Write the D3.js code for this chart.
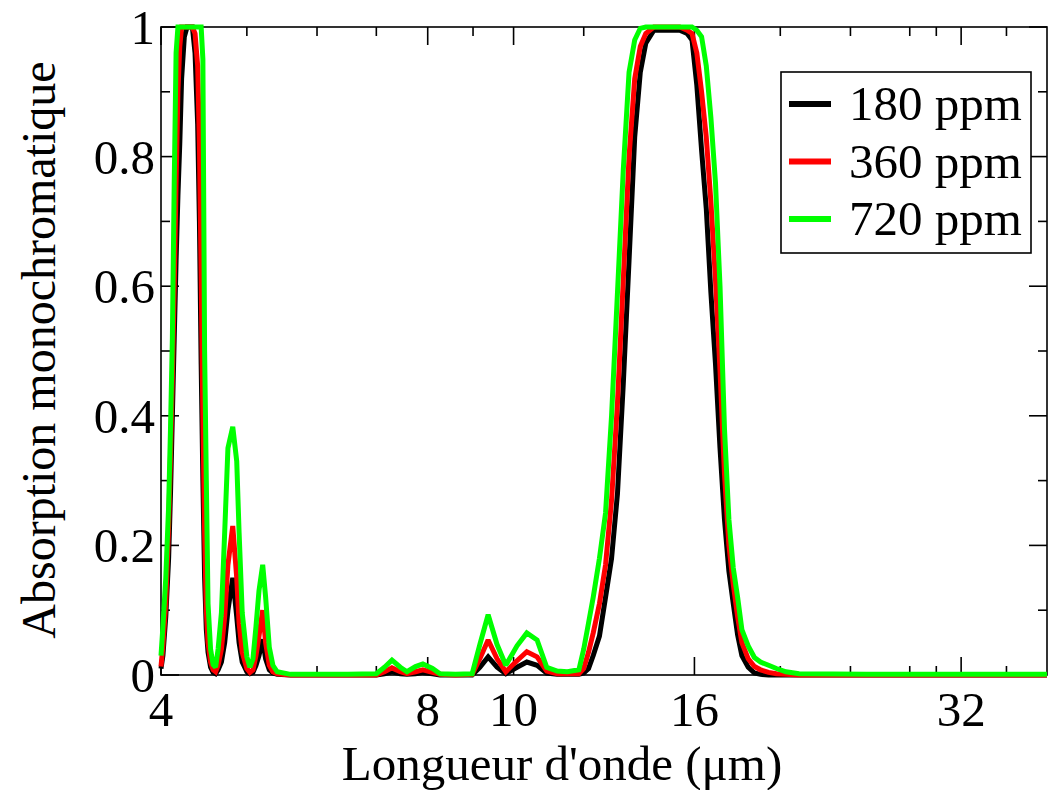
<!DOCTYPE html>
<html><head><meta charset="utf-8">
<script src="https://cdn.jsdelivr.net/npm/d3@7"></script>
<style>
html,body{margin:0;padding:0;background:#fff;}
svg{display:block;}
text{font-family:"Liberation Serif","Times New Roman",serif;fill:#000;}
</style></head>
<body>
<svg id="chart" width="1051" height="790"></svg>
<script>
// ---- data ----
const wavelengths = [4.00,4.02,4.05,4.08,4.10,4.12,4.14,4.16,4.18,4.20,4.22,4.25,4.28,4.34,4.37,4.40,4.42,4.44,4.46,4.48,4.50,4.52,4.55,4.58,4.61,4.64,4.68,4.72,4.76,4.82,4.87,4.90,4.94,5.00,5.04,5.08,5.12,5.16,5.21,5.25,5.30,5.35,5.41,5.60,6.00,6.50,7.00,7.15,7.29,7.45,7.58,7.75,7.90,8.10,8.26,8.60,8.98,9.16,9.36,9.58,9.80,10.09,10.35,10.63,10.90,11.20,11.50,11.85,12.00,12.15,12.30,12.50,12.70,12.90,13.10,13.30,13.50,13.70,13.90,14.10,14.40,15.00,15.40,15.70,15.90,16.10,16.30,16.50,16.70,16.90,17.10,17.30,17.50,17.70,17.90,18.10,18.40,18.70,19.00,19.40,19.80,20.30,21.00,25.00,30.00,40.00];
const abs180 = [.010,.030,.090,.180,.280,.400,.520,.640,.740,.820,.920,.985,1,1,.960,.850,.700,.480,.300,.150,.070,.035,.012,.004,.002,.008,.020,.050,.100,.150,.090,.050,.020,.005,.002,.004,.015,.030,.055,.025,.008,.003,.001,0,0,0,0,.002,.005,.002,.001,.002,.004,.002,0,0,0,.012,.028,.012,.002,.012,.020,.015,.003,.001,.001,.001,.003,.010,.030,.060,.120,.180,.280,.450,.640,.830,.930,.975,.995,.995,.995,.990,.980,.910,.810,.720,.590,.480,.350,.240,.160,.110,.062,.030,.012,.003,.001,0,0,0,0,0,0,0];
const abs360 = [.013,.045,.110,.230,.340,.460,.600,.760,.900,.970,1,1,1,1,.990,.940,.820,.620,.400,.220,.100,.050,.020,.008,.005,.015,.040,.090,.170,.230,.150,.080,.035,.010,.004,.008,.030,.060,.100,.050,.015,.005,.002,0,0,0,0,.005,.011,.005,.002,.005,.008,.004,.001,0,.001,.025,.054,.025,.005,.022,.036,.028,.006,.002,.002,.002,.010,.035,.065,.110,.170,.270,.420,.610,.800,.920,.970,.990,1,1,1,.995,.990,.960,.900,.830,.730,.610,.470,.310,.200,.140,.090,.050,.025,.013,.008,.004,.002,.001,0,0,0,0];
const abs720 = [.030,.075,.150,.260,.380,.520,.760,.960,1,1,1,1,1,1,1,1,1,1,.950,.500,.300,.110,.040,.016,.012,.040,.096,.220,.350,.383,.330,.220,.096,.028,.012,.025,.075,.130,.170,.120,.043,.015,.005,.001,.001,.001,.002,.012,.023,.012,.005,.013,.017,.010,.002,.001,.002,.047,.093,.047,.015,.045,.065,.054,.012,.006,.005,.008,.040,.080,.120,.180,.250,.400,.590,.780,.930,.980,.998,1,1,1,1,1,1,.995,.985,.940,.860,.760,.600,.380,.240,.165,.120,.070,.045,.027,.020,.015,.010,.005,.002,.001,.001,.001];
const seriesNames = ["180 ppm","360 ppm","720 ppm"];
const seriesColors = ["#000000","#ff0000","#00ff00"];
const xMajorTicks = [4,8,10,16,32];
const xMinorTicks = [5,6,7,9,12,20,24,28,30,36];
const yMajorTicks = [0,0.2,0.4,0.6,0.8,1];
const yMinorTicks = [0.1,0.3,0.5,0.7,0.9];
const xTitle = "Longueur d'onde (μm)";
const yTitle = "Absorption monochromatique";

// ---- layout ----
const svg = d3.select("#chart");
const L = 161, R = 1047, T = 27, B = 675;
const x = d3.scaleLog().domain([4,40]).range([L,R]);
const y = d3.scaleLinear().domain([0,1]).range([B,T]);
const fmtY = d => d===0 ? "0" : d===1 ? "1" : d3.format(".1f")(d);
const FS = 49;

// frame
svg.append("rect").attr("x",L).attr("y",T).attr("width",R-L).attr("height",B-T)
  .attr("fill","none").attr("stroke","#000").attr("stroke-width",1.6);

const majLen = 18, minLen = 9;
const tickG = svg.append("g").attr("stroke","#000").attr("stroke-width",1.6);
xMajorTicks.forEach(v=>{
  tickG.append("line").attr("x1",x(v)).attr("x2",x(v)).attr("y1",B).attr("y2",B-majLen);
  tickG.append("line").attr("x1",x(v)).attr("x2",x(v)).attr("y1",T).attr("y2",T+majLen);
});
xMinorTicks.forEach(v=>{
  tickG.append("line").attr("x1",x(v)).attr("x2",x(v)).attr("y1",B).attr("y2",B-minLen);
  tickG.append("line").attr("x1",x(v)).attr("x2",x(v)).attr("y1",T).attr("y2",T+minLen);
});
yMajorTicks.forEach(v=>{
  tickG.append("line").attr("x1",L).attr("x2",L+majLen).attr("y1",y(v)).attr("y2",y(v));
  tickG.append("line").attr("x1",R).attr("x2",R-majLen).attr("y1",y(v)).attr("y2",y(v));
});
yMinorTicks.forEach(v=>{
  tickG.append("line").attr("x1",L).attr("x2",L+minLen).attr("y1",y(v)).attr("y2",y(v));
  tickG.append("line").attr("x1",R).attr("x2",R-minLen).attr("y1",y(v)).attr("y2",y(v));
});

// tick labels
svg.append("g").selectAll("text").data(xMajorTicks).join("text")
  .attr("x",d=>x(d)).attr("y",726).attr("text-anchor","middle")
  .attr("font-size",FS).text(d=>d);
svg.append("g").selectAll("text").data(yMajorTicks).join("text")
  .attr("x",155).attr("y",d=>y(d)+17).attr("text-anchor","end")
  .attr("font-size",FS).text(fmtY);

// titles
svg.append("text").attr("x",562).attr("y",780).attr("text-anchor","middle")
  .attr("font-size",49).text(xTitle);
svg.append("text").attr("transform","translate(55,350) rotate(-90)")
  .attr("text-anchor","middle").attr("font-size",48).text(yTitle);

// curves
const series = [abs180, abs360, abs720];
const line = d3.line().x((d,i)=>x(wavelengths[i])).y(d=>y(d));
series.forEach((s,k)=>{
  svg.append("path").datum(s).attr("d",line).attr("fill","none")
    .attr("stroke",seriesColors[k]).attr("stroke-width",5)
    .attr("stroke-linejoin","miter").attr("stroke-miterlimit",2);
});

// legend
const lg = svg.append("g");
lg.append("rect").attr("x",781).attr("y",72).attr("width",250).attr("height",181)
  .attr("fill","#fff").attr("stroke","#000").attr("stroke-width",1.6);
seriesNames.forEach((n,k)=>{
  const yy = 104 + k*57.5;
  lg.append("line").attr("x1",789).attr("x2",831).attr("y1",yy).attr("y2",yy)
    .attr("stroke",seriesColors[k]).attr("stroke-width",6);
  lg.append("text").attr("x",849).attr("y",yy+16).attr("font-size",FS).text(n);
});
</script>
</body></html>
